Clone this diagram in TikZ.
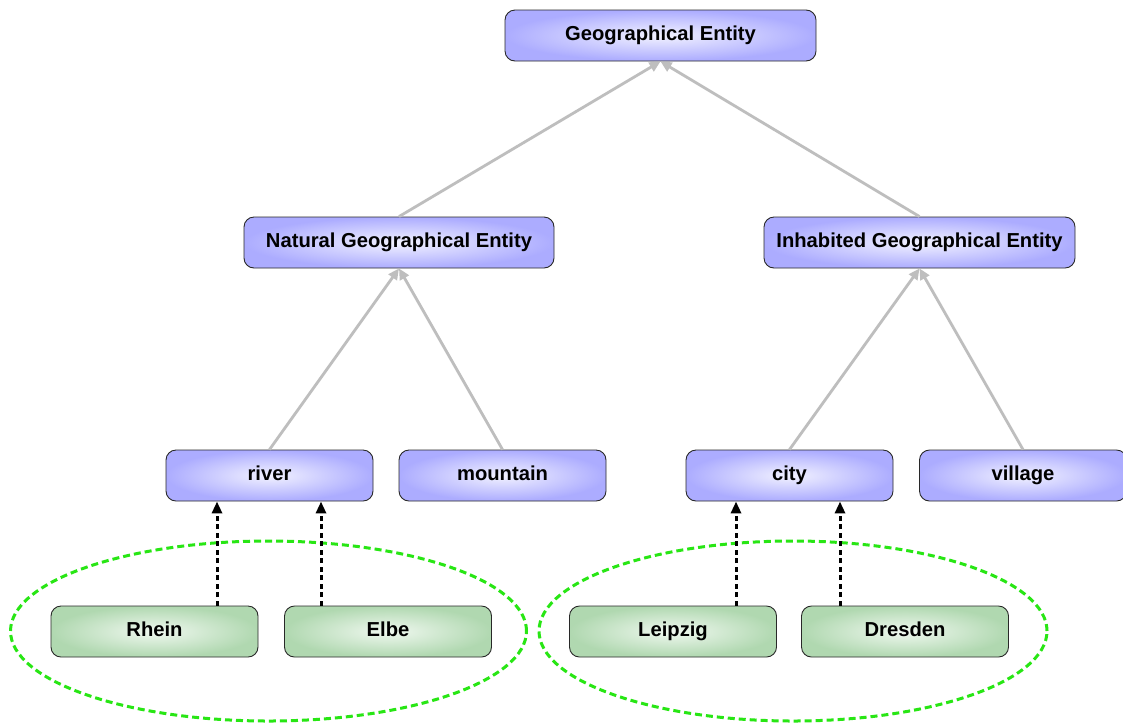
\documentclass[tikz,border=0pt]{standalone}
\usepackage{fontspec}
\setmainfont{Liberation Sans}
\usetikzlibrary{arrows.meta,shapes.geometric}
\definecolor{bout}{RGB}{172,172,255}
\definecolor{bin}{RGB}{242,242,255}
\definecolor{gout}{RGB}{176,216,176}
\definecolor{gin}{RGB}{240,248,240}
\definecolor{edgegray}{RGB}{190,190,190}
\definecolor{ellgreen}{RGB}{40,230,20}
\tikzset{
  box/.style={rectangle, rounded corners=10pt, draw={rgb,255:red,40;green,40;blue,40}, line width=0.9pt,
    minimum height=51pt, inner sep=0pt, text height=1.02em, text depth=0pt,
    font=\fontsize{20.2}{24}\selectfont\bfseries},
  classbox/.style={box, inner color=bin, outer color=bout},
  instbox/.style={box, inner color=gin, outer color=gout, minimum width=207pt},
  isa/.style={draw=edgegray, line width=2.8pt, -{Triangle[length=11pt,width=10pt]}},
  inst/.style={draw=black, line width=3pt, dash pattern=on 5pt off 3.5pt, -{Triangle[length=12pt,width=10pt]}},
  grp/.style={draw=ellgreen, line width=3pt, dash pattern=on 7pt off 4pt},
}
\begin{document}
\begin{tikzpicture}[x=1pt,y=-1pt]
\useasboundingbox (0,0) rectangle (1123,724);
\clip (0,0) rectangle (1123,724);
\fill[white] (0,0) rectangle (1123,724);
\node[classbox, minimum width=311pt] (geo) at (660.5,35.5) {Geographical Entity};
\node[classbox, minimum width=310pt] (nat) at (399,242.5) {Natural Geographical Entity};
\node[classbox, minimum width=311pt] (inh) at (919.5,242.5) {Inhabited Geographical Entity};
\node[classbox, minimum width=207pt] (river) at (269.5,475.5) {river};
\node[classbox, minimum width=207pt] (mountain) at (502.5,475.5) {mountain};
\node[classbox, minimum width=207pt] (city) at (789.5,475.5) {city};
\node[classbox, minimum width=207pt] (village) at (1023,475.5) {village};
\node[instbox] (rhein) at (154.5,631.5) {Rhein};
\node[instbox] (elbe) at (388,631.5) {Elbe};
\node[instbox] (leipzig) at (673,631.5) {Leipzig};
\node[instbox] (dresden) at (905,631.5) {Dresden};
\node[grp, ellipse, minimum width=516pt, minimum height=180pt] (g1) at (268.5,631) {};
\node[grp, ellipse, minimum width=508pt, minimum height=180pt] (g2) at (793,631) {};
\draw[isa] (nat.north) -- (geo.south);
\draw[isa] (inh.north) -- (geo.south);
\draw[isa] (river.north) -- (nat.south);
\draw[isa] (mountain.north) -- (nat.south);
\draw[isa] (city.north) -- (inh.south);
\draw[isa] (village.north) -- (inh.south);
\draw[inst] (rhein.north -| 217,0) -- (river.south -| 217,0);
\draw[inst] (elbe.north -| 321,0) -- (river.south -| 321,0);
\draw[inst] (leipzig.north -| 736,0) -- (city.south -| 736,0);
\draw[inst] (dresden.north -| 840,0) -- (city.south -| 840,0);
\end{tikzpicture}
\end{document}
